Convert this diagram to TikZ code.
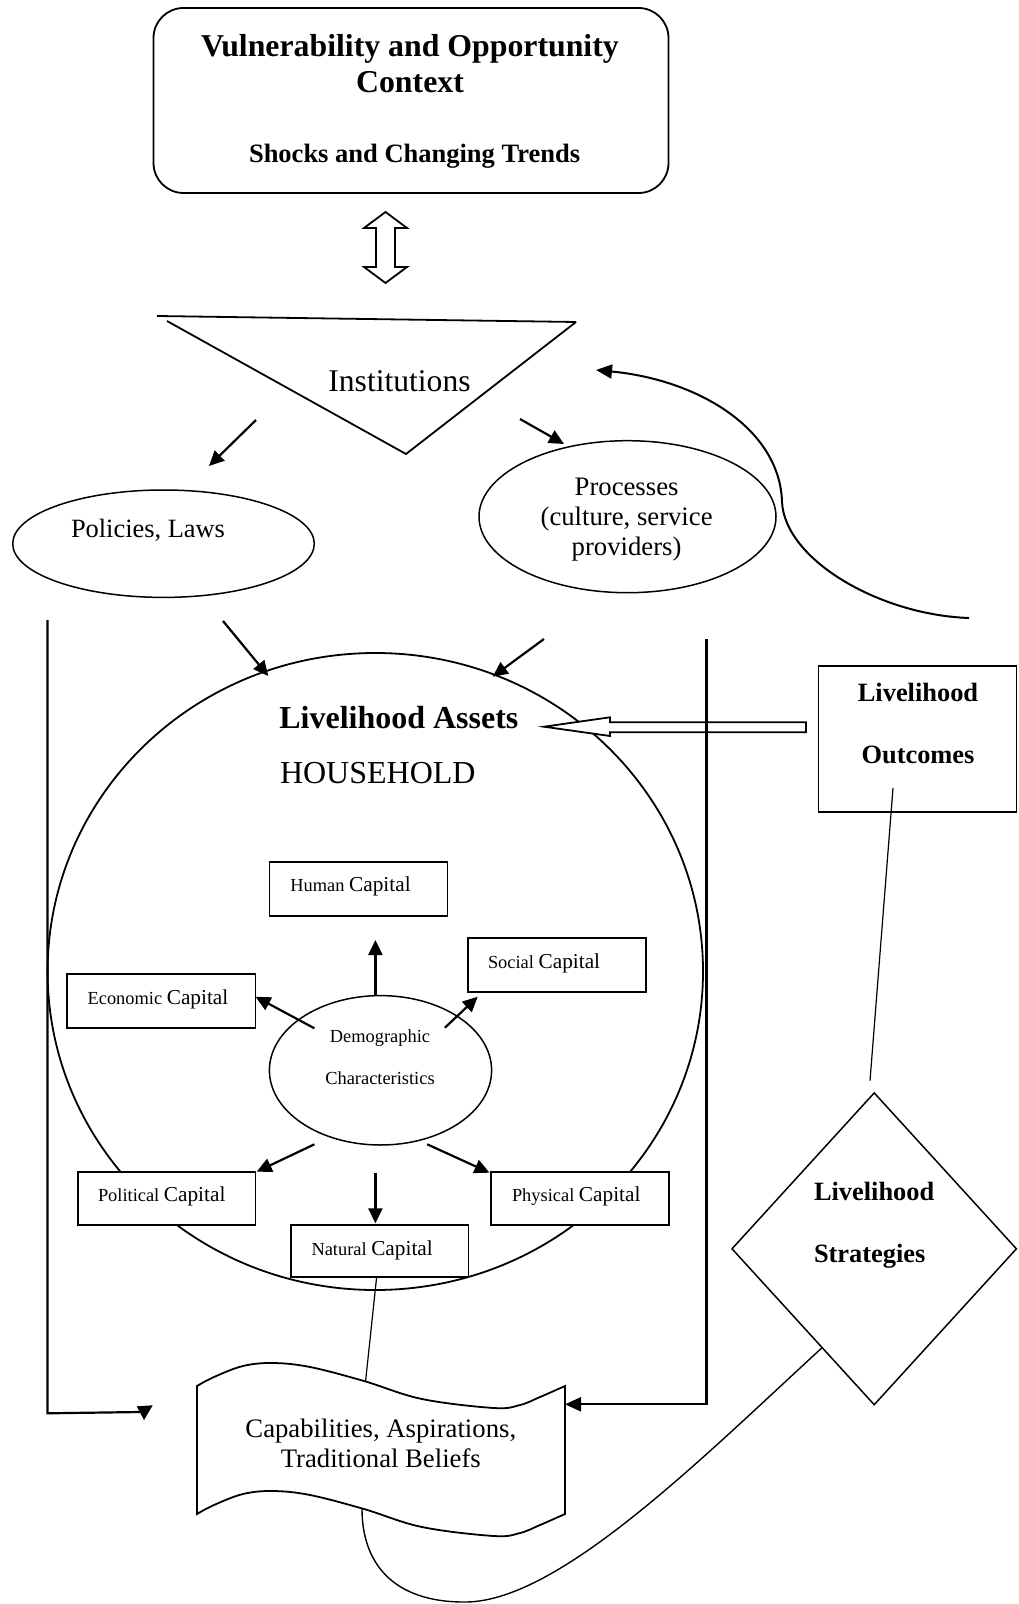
\documentclass[tikz,border=0pt]{standalone}
\usepackage{fontspec}
\setmainfont{Liberation Serif}
\usetikzlibrary{arrows.meta,shapes.geometric}

\newcommand{\fsz}[1]{\fontsize{#1}{#1}\selectfont}

\tikzset{
  outline/.style={line width=0.9pt},
  thin line/.style={line width=0.6pt},
  arr/.style={line width=1.1pt, -{Triangle[length=7.5pt,width=7pt]}},
  txt/.style={inner sep=0pt, outer sep=0pt, anchor=base},
  txtl/.style={inner sep=0pt, outer sep=0pt, anchor=base west},
  oval/.style={ellipse, draw, line width=0.75pt, inner sep=0pt, fill=white},
  capbox/.style={rectangle, draw, line width=0.9pt, inner sep=0pt, fill=white},
}

\begin{document}
\begin{tikzpicture}[x=0.5pt, y=-0.5pt]
\useasboundingbox (0,0) rectangle (1018,1604);

% ---------- context box ----------
\node[draw, outline, rounded corners=15pt, minimum width=257.5pt, minimum height=92.5pt, inner sep=0pt]
  (context) at (411,100.5) {};
\node[txt] (ctxA) at (410,57) {\fsz{15.9pt}\bfseries Vulnerability and Opportunity};
\node[txt] (ctxB) at (410,93) {\fsz{15.9pt}\bfseries Context};
\node[txt] (ctxC) at (414.6,163) {\fsz{13.25pt}\bfseries Shocks and Changing Trends};

% ---------- hollow double arrow ----------
\draw[outline, fill=white] (385.5,212) -- (407,228) -- (395,228) -- (395,267) -- (407,267)
  -- (385.5,283) -- (364,267) -- (376,267) -- (376,228) -- (364,228) -- cycle;

% ---------- institutions triangle ----------
\coordinate (triTL) at (157,316);
\coordinate (triTR) at (576,322);
\coordinate (triL) at (167,321);
\coordinate (triB) at (406,454);
\draw[outline] (triTL) -- (triTR);
\draw[outline] (triL) -- (triB) -- (triTR);
\node[txt] (inst) at (399.5,391.7) {\fsz{15.8pt}Institutions};

% ---------- policies and processes ----------
\node[oval, minimum width=150.8pt, minimum height=53.7pt] (policies) at (163.5,543.7) {};
\node[txt] (polT) at (148,537.7) {\fsz{13.2pt}Policies, Laws};

\node[oval, minimum width=148.5pt, minimum height=76pt] (processes) at (627.5,516.7) {};
\node[txt] (procA) at (626.6,495) {\fsz{13.35pt}Processes};
\node[txt] (procB) at (626.6,525) {\fsz{13.35pt}(culture, service};
\node[txt] (procC) at (626.6,555) {\fsz{13.35pt}providers)};

\coordinate (iL1) at (256,420);
\coordinate (iL2) at (209,466);
\coordinate (iR1) at (520,419);
\coordinate (iR2) at (564,444);
\draw[arr] (iL1) -- (iL2);
\draw[arr] (iR1) -- (iR2);

% ---------- household circle ----------
\node[ellipse, draw, line width=0.9pt, inner sep=0pt, minimum width=327.7pt, minimum height=318.5pt]
  (household) at (375.3,971.5) {};
\node[txtl] (assets) at (279.3,728) {\fsz{16pt}\bfseries Livelihood Assets};
\node[txtl] (hh) at (280,783.5) {\fsz{16pt}HOUSEHOLD};

\coordinate (aL1) at (223,621);
\coordinate (aL2) at (268.3,676);
\coordinate (aR1) at (544,639);
\coordinate (aR2) at (492.7,676.7);
\draw[arr] (aL1) -- (aL2);
\draw[arr] (aR1) -- (aR2);

% ---------- demographic core and capitals ----------
\node[oval, minimum width=111.1pt, minimum height=74.7pt] (demo) at (380.5,1070.3) {};
\node[txt] (demoA) at (380,1042.7) {\fsz{9.2pt}Demographic};
\node[txt] (demoB) at (380,1084.3) {\fsz{9.2pt}Characteristics};

\node[capbox, minimum width=89pt, minimum height=26.7pt] (human) at (358.4,889) {};
\node[capbox, minimum width=89pt, minimum height=27pt] (social) at (557,965.3) {};
\node[capbox, minimum width=94.25pt, minimum height=26.7pt] (economic) at (161.25,1001) {};
\node[capbox, minimum width=88.8pt, minimum height=26.35pt] (political) at (166.7,1198.7) {};
\node[capbox, minimum width=89pt, minimum height=26.35pt] (physical) at (580.2,1198.7) {};
\node[capbox, minimum width=88.6pt, minimum height=26.15pt] (natural) at (379.9,1251.2) {};

\node[txtl] (humanT) at (290.4,891.7) {\fsz{9.2pt}Human \fsz{10.65pt}Capital};
\node[txtl] (socialT) at (488,968.3) {\fsz{9.2pt}Social \fsz{10.65pt}Capital};
\node[txtl] (economicT) at (87.6,1004.3) {\fsz{9.2pt}Economic \fsz{10.65pt}Capital};
\node[txtl] (politicalT) at (98,1201.7) {\fsz{9.2pt}Political \fsz{10.65pt}Capital};
\node[txtl] (physicalT) at (512,1201.7) {\fsz{9.2pt}Physical \fsz{10.65pt}Capital};
\node[txtl] (naturalT) at (311.5,1255) {\fsz{9.2pt}Natural \fsz{10.65pt}Capital};

\coordinate (dUp) at (375.4,995);
\coordinate (dUpT) at (375.4,940);
\coordinate (dEc) at (314.4,1028.3);
\coordinate (dEcT) at (255.5,996.7);
\coordinate (dSo) at (444.9,1027.7);
\coordinate (dSoT) at (477.7,996.7);
\coordinate (dPo) at (314.4,1144.3);
\coordinate (dPoT) at (256.7,1171.7);
\coordinate (dNa) at (375.4,1173.3);
\coordinate (dNaT) at (375.4,1223.3);
\coordinate (dPh) at (427.2,1144.3);
\coordinate (dPhT) at (489.5,1172.7);
\draw[arr] (dUp) -- (dUpT);
\draw[arr] (dEc) -- (dEcT);
\draw[arr] (dSo) -- (dSoT);
\draw[arr] (dPo) -- (dPoT);
\draw[arr] (dNa) -- (dNaT);
\draw[arr] (dPh) -- (dPhT);

% ---------- livelihood outcomes ----------
\node[rectangle, draw, line width=0.9pt, inner sep=0pt, minimum width=99pt, minimum height=73pt]
  (outcomes) at (917.5,738.7) {};
\node[txt] (outA) at (918,701.7) {\fsz{13.2pt}\bfseries Livelihood};
\node[txt] (outB) at (918,763.3) {\fsz{13.2pt}\bfseries Outcomes};

% hollow arrow from outcomes into the assets
\draw[outline, fill=white] (544,726.7) -- (610,717.3) -- (610,722.3) -- (806,722.3)
  -- (806,732.3) -- (610,732.3) -- (610,736) -- cycle;

% ---------- feedback curve to institutions ----------
\coordinate (fbStart) at (969,618);
\coordinate (fbMid) at (782,502);
\coordinate (fbEnd) at (596,370);
\draw[line width=1pt, -{Triangle[length=8pt,width=7pt]}] (fbStart)
  .. controls (880,615) and (785,560) .. (fbMid)
  .. controls (780,430) and (700,380) .. (fbEnd);

% ---------- livelihood strategies ----------
\node[diamond, draw, line width=0.75pt, inner sep=0pt, minimum width=142.5pt, minimum height=156.2pt]
  (strategies) at (874.2,1248.8) {};
\node[txtl] (strA) at (814,1200) {\fsz{13.2pt}\bfseries Livelihood};
\node[txtl] (strB) at (814,1262.7) {\fsz{13.2pt}\bfseries Strategies};

\coordinate (osTop) at (893,788);
\coordinate (osBot) at (870,1080.7);
\draw[thin line] (osTop) -- (osBot);

% ---------- side lines ----------
\coordinate (lTop) at (47.4,620);
\coordinate (lCorner) at (47.4,1413.3);
\coordinate (lEnd) at (140,1412);
\draw[line width=1.1pt] (lTop) -- (lCorner) -- (lEnd);
\fill (136.7,1406.3) -- (152.7,1405.3) -- (144,1420) -- cycle;

\coordinate (rTop) at (706.5,639);
\coordinate (rCorner) at (706.5,1404.3);
\coordinate (rEnd) at (565,1404.3);
\draw[line width=1.1pt, -{Triangle[length=8pt,width=7pt]}] (rTop) -- (rCorner) -- (rEnd);

% ---------- capabilities banner ----------
\coordinate (natLink) at (376.6,1277.3);
\coordinate (banTop) at (365.6,1381);
\draw[thin line] (natLink) -- (banTop);

\draw[outline, fill=white]
  plot[smooth, tension=0.6] coordinates {(197,1386) (214,1377) (243,1366) (273,1363) (310,1367)
     (364,1381) (422,1399) (494,1408) (520,1405) (540,1397) (565,1386)}
  -- plot[smooth, tension=0.6] coordinates {(565,1514) (540,1525) (520,1533) (494,1536) (422,1527)
     (364,1509) (310,1495) (273,1491) (243,1494) (214,1505) (197,1514)}
  -- cycle;
\node[txt] (capA) at (380.8,1437.5) {\fsz{13.35pt}Capabilities, Aspirations,};
\node[txt] (capB) at (380.8,1467) {\fsz{13.35pt}Traditional Beliefs};

% ---------- strategies back to the banner ----------
\coordinate (sbStart) at (821.7,1348);
\coordinate (sbLow) at (467,1602);
\coordinate (sbEnd) at (362,1509);
\draw[thin line, line width=0.7pt] (sbStart) .. controls (700,1460) and (560,1600) .. (sbLow)
  .. controls (390,1603) and (362,1560) .. (sbEnd);

\end{tikzpicture}
\end{document}
